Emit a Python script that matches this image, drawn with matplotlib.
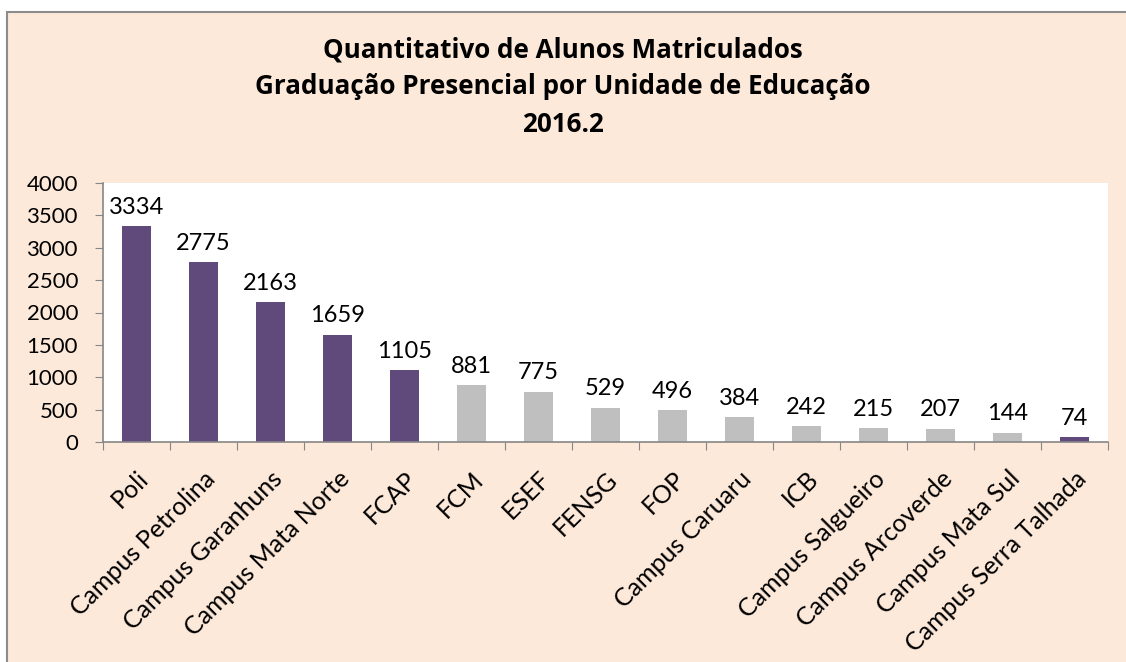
import matplotlib.pyplot as plt
from matplotlib.patches import Rectangle

unidades = ['Poli', 'Campus Petrolina', 'Campus Garanhuns', 'Campus Mata Norte', 'FCAP',
            'FCM', 'ESEF', 'FENSG', 'FOP', 'Campus Caruaru', 'ICB', 'Campus Salgueiro',
            'Campus Arcoverde', 'Campus Mata Sul', 'Campus Serra Talhada']
alunos = [3334, 2775, 2163, 1659, 1105, 881, 775, 529, 496, 384, 242, 215, 207, 144, 74]
campus_novo = [True, True, True, True, True, False, False, False, False, False,
               False, False, False, False, True]

roxo = '#604A7B'
cinza = '#BFBFBF'
fundo = '#FDE9D9'

plt.rcParams['font.family'] = ['Lato', 'DejaVu Sans']

fig = plt.figure(figsize=(11.26, 6.62), dpi=100)
fig.patch.set_facecolor('white')

# moldura do grafico (cortada a direita e embaixo)
W, H = 1126, 662
moldura = Rectangle((7 / W, -0.01), 1.02, 1 - 12 / H + 0.01, transform=fig.transFigure,
                    facecolor=fundo, edgecolor='#8C8C8C', linewidth=1.5, zorder=-10)
fig.patches.append(moldura)

ax = fig.add_axes([103 / W, 1 - 442 / H, (1108 - 103) / W, (442 - 183) / H])
ax.set_zorder(5)
ax.set_facecolor('white')

cores = [roxo if c else cinza for c in campus_novo]
x = range(len(unidades))
barras = ax.bar(x, alunos, width=0.42, color=cores, zorder=2)

for xi, v in zip(x, alunos):
    ax.annotate(str(v), (xi, v), xytext=(0, 6), textcoords='offset points',
                ha='center', va='bottom', fontsize=17)

ax.set_xlim(-0.5, len(unidades) - 0.5)
ax.set_ylim(0, 4000)
ax.set_yticks(range(0, 4001, 500))
ax.set_xticks([i - 0.5 for i in range(len(unidades) + 1)], minor=False)
ax.set_xticklabels([''] * (len(unidades) + 1))
ax.set_xticks(list(x), minor=True)
ax.set_xticklabels(unidades, minor=True, rotation=45, ha='right', va='top',
                   rotation_mode='anchor', fontsize=18)
ax.tick_params(axis='x', which='minor', length=0, pad=18)
ax.tick_params(axis='x', which='major', length=6, color='#868686')
ax.tick_params(axis='y', length=6, color='#868686', labelsize=16, pad=12)

for s in ['top', 'right']:
    ax.spines[s].set_visible(False)
for s in ['left', 'bottom']:
    ax.spines[s].set_color('#868686')
    ax.spines[s].set_linewidth(1.2)

titulo = ['Quantitativo de Alunos Matriculados',
          'Graduação Presencial por Unidade de Educação',
          '2016.2']
for linha, y in zip(titulo, [50, 87, 124]):
    fig.text(0.5, 1 - y / H, linha, ha='center', va='center', fontsize=18.7,
             fontweight='bold', family=['Open Sans', 'DejaVu Sans'])

fig.savefig('out.png', dpi=100)
